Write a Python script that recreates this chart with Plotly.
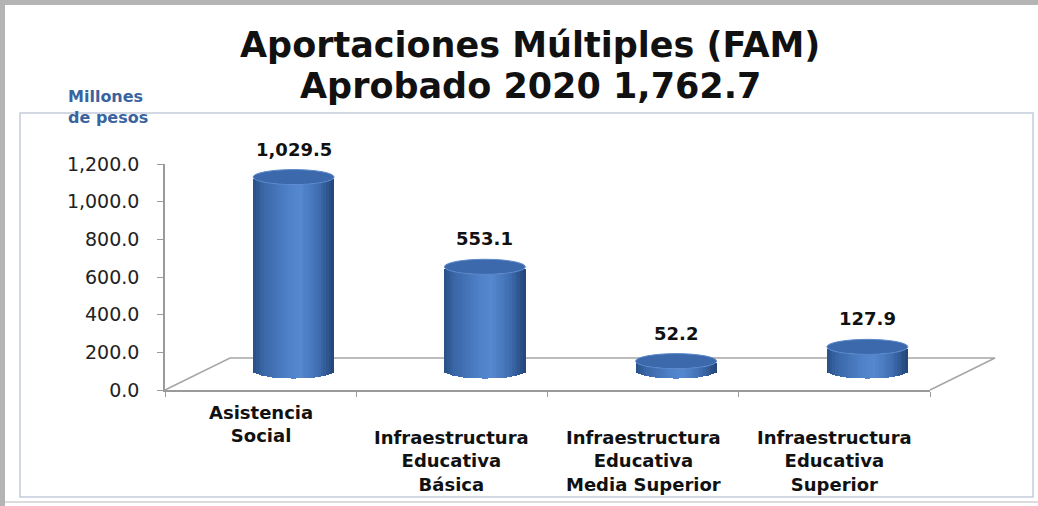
import plotly.graph_objects as go

# ---------------- data ----------------
categories = [
    "Asistencia<br>Social",
    "Infraestructura<br>Educativa<br>Básica",
    "Infraestructura<br>Educativa<br>Media Superior",
    "Infraestructura<br>Educativa<br>Superior",
]
values = [1029.5, 553.1, 52.2, 127.9]
y_ticks = [0, 200, 400, 600, 800, 1000, 1200]
title_line1 = "Aportaciones Múltiples (FAM)"
title_line2 = "Aprobado 2020 1,762.7"
unit_label = "Millones<br>de pesos"

# ---------------- geometry / style ----------------
W, H = 1038, 506
ML, MR, MT, MB = 165, 108, 164, 116
PW, PH = W - ML - MR, H - MT - MB
FONT = "DejaVu Sans"

def pxx(px):
    return (px - ML) / PW

def pxy(py):
    return (H - MB - py) / PH

Y2_OFF = 101          # floor depth lift for the cylinders (data units)
SHIFT = 0.1725        # depth shift of cylinders (category units)
BW = 0.4235           # cylinder width
B = 40                # half-height of cylinder ellipse (data units)
N = 30                # number of shading strips

stops = [(0.0, (40, 80, 136)), (0.12, (58, 102, 166)), (0.42, (78, 128, 200)),
         (0.58, (86, 136, 208)), (0.8, (64, 110, 178)), (1.0, (34, 68, 120))]

def col(u):
    for (a, ca), (b, cb) in zip(stops[:-1], stops[1:]):
        if a <= u <= b:
            t = (u - a) / (b - a)
            c = [round(ca[j] + (cb[j] - ca[j]) * t) for j in range(3)]
            return f"rgb({c[0]},{c[1]},{c[2]})"
    return "rgb(34,68,120)"

xs = list(range(len(values)))
fig = go.Figure()

# empty trace so the visible value axis (y) belongs to the subplot
fig.add_trace(go.Scatter(x=[None], y=[None], mode="markers", showlegend=False,
                         hoverinfo="skip"))

for k in range(N):
    u = (k + 0.5) / N
    t = 2 * u - 1
    s = (1 - t * t) ** 0.5
    fig.add_trace(go.Bar(
        x=xs, y=values, base=[-B * s] * len(values),
        width=BW / N * 1.05, offset=SHIFT - BW / 2 + k * BW / N,
        marker=dict(color=col(u), line=dict(width=0)),
        yaxis="y2", showlegend=False, hoverinfo="skip",
    ))

shapes = []
# floor (3D base)
floor = [(165, 390), (230, 358), (995, 358), (930, 390)]
shapes.append(dict(type="path", xref="paper", yref="paper", layer="below",
                   path="M " + " L ".join(f"{pxx(a):.4f},{pxy(b):.4f}" for a, b in floor),
                   line=dict(color="#a6a6a6", width=1.5)))
# outer frame & shadow
shapes.append(dict(type="rect", xref="paper", yref="paper", layer="below",
                   x0=pxx(20), x1=pxx(1033), y0=pxy(497), y1=pxy(113),
                   line=dict(color="#c3cddb", width=1.5)))
shapes.append(dict(type="rect", xref="paper", yref="paper", layer="below",
                   x0=pxx(0), x1=pxx(5), y0=pxy(506), y1=pxy(0),
                   fillcolor="#b4b4b4", line=dict(width=0)))
shapes.append(dict(type="rect", xref="paper", yref="paper", layer="below",
                   x0=pxx(0), x1=pxx(1038), y0=pxy(5), y1=pxy(0),
                   fillcolor="#b4b4b4", line=dict(width=0)))
shapes.append(dict(type="line", xref="paper", yref="paper", layer="below",
                   x0=pxx(5), x1=pxx(1038), y0=pxy(502), y1=pxy(502),
                   line=dict(color="#dcdcdc", width=2)))
# cylinder tops
for i, v in enumerate(values):
    shapes.append(dict(type="circle", xref="x", yref="y2", layer="above",
                       x0=i + SHIFT - BW / 2, x1=i + SHIFT + BW / 2,
                       y0=v - B, y1=v + B,
                       fillcolor="#3c69ab", line=dict(color="#5a88cc", width=1)))

annotations = []
for i, v in enumerate(values):
    annotations.append(dict(x=i + SHIFT, y=v, xref="x", yref="y2", yshift=28,
                            yanchor="middle",
                            text=f"<b>{v:,.1f}</b>", showarrow=False,
                            font=dict(family=FONT, size=18, color="#111")))
label_y = [424, 461, 461, 461]
for i, c in enumerate(categories):
    annotations.append(dict(x=i, y=pxy(label_y[i]), xref="x", yref="paper",
                            yanchor="middle",
                            text=f"<b>{c}</b>", showarrow=False, align="center",
                            font=dict(family=FONT, size=18, color="#111")))
annotations.append(dict(x=pxx(66), y=pxy(107), xref="paper", yref="paper",
                        xanchor="left", yanchor="middle", align="left",
                        text=f"<b>{unit_label}</b>",
                        showarrow=False, font=dict(family=FONT, size=16, color="#3a63a0")))
# title lines
annotations.append(dict(x=pxx(530), y=pxy(45), xref="paper", yref="paper",
                        xanchor="center", yanchor="middle",
                        text=f"<b>{title_line1}</b>", showarrow=False,
                        font=dict(family=FONT, size=35, color="#111")))
annotations.append(dict(x=pxx(530), y=pxy(86), xref="paper", yref="paper",
                        xanchor="center", yanchor="middle",
                        text=f"<b>{title_line2}</b>", showarrow=False,
                        font=dict(family=FONT, size=35, color="#111")))

fig.update_layout(
    width=W, height=H,
    margin=dict(l=ML, r=MR, t=MT, b=MB),
    paper_bgcolor="white", plot_bgcolor="rgba(0,0,0,0)",
    barmode="overlay", bargap=0,
    xaxis=dict(range=[-0.5, 3.5], tickvals=[-0.5, 0.5, 1.5, 2.5, 3.5],
               showticklabels=False, ticks="outside", ticklen=5, tickcolor="#9a9a9a",
               showline=True, linecolor="#9a9a9a", linewidth=1.5,
               showgrid=False, zeroline=False, fixedrange=True),
    yaxis=dict(range=[0, 1200], tickvals=y_ticks, tickformat=",.1f",
               ticks="outside", ticklen=6, tickcolor="#9a9a9a", ticklabelstandoff=14,
               showline=True, linecolor="#9a9a9a", linewidth=1.5,
               showgrid=False, zeroline=False,
               tickfont=dict(family=FONT, size=19, color="#222")),
    yaxis2=dict(range=[-Y2_OFF, 1200 - Y2_OFF], overlaying="y", visible=False),
    shapes=shapes, annotations=annotations,
)

fig.write_html("out.html",
               config={"displayModeBar": False},
               post_script="document.body.style.margin='0';"
                           "document.body.style.overflow='hidden';")
